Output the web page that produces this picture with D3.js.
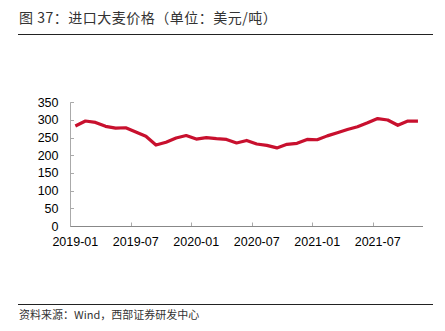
<!DOCTYPE html>
<html><head><meta charset="utf-8">
<script src="https://cdn.jsdelivr.net/npm/d3@7"></script>
<style>body{margin:0;background:#fff}svg{display:block}</style>
</head><body><svg id="c" width="445" height="331"></svg>
<script>
const months = ["2019-01","2019-02","2019-03","2019-04","2019-05","2019-06","2019-07","2019-08","2019-09","2019-10","2019-11","2019-12",
"2020-01","2020-02","2020-03","2020-04","2020-05","2020-06","2020-07","2020-08","2020-09","2020-10","2020-11","2020-12",
"2021-01","2021-02","2021-03","2021-04","2021-05","2021-06","2021-07","2021-08","2021-09","2021-10","2021-11"];
const prices = [283,297,293,282,277,278,266,254,229,237,249,256,246,250,247,245,235,242,232,228,221,231,234,245,
244,255,264,273,281,292,304,300,285,297,297];
const yTicks = [0,50,100,150,200,250,300,350];
const xTickLabels = ["2019-01","2019-07","2020-01","2020-07","2021-01","2021-07"];

const svg = d3.select("#c");
const font = "'Liberation Sans', Arial, sans-serif";
const cjk = "'Noto Sans CJK SC', sans-serif";

svg.append("text").attr("x",19).attr("y",23).attr("font-family",cjk).attr("font-size",14)
  .attr("letter-spacing",0.5).attr("fill","#333")
  .text("图 37：进口大麦价格（单位：美元/吨）");
svg.append("line").attr("x1",18).attr("x2",433).attr("y1",34.5).attr("y2",34.5).attr("stroke","#222").attr("stroke-width",1);
svg.append("line").attr("x1",18).attr("x2",433).attr("y1",304.5).attr("y2",304.5).attr("stroke","#222").attr("stroke-width",1);
svg.append("text").attr("x",19).attr("y",319).attr("font-family",cjk).attr("font-size",11).attr("fill","#333")
  .text("资料来源：Wind，西部证券研发中心");

const x = d3.scaleBand().domain(months).range([70.3,423]).padding(0);
const y = d3.scaleLinear().domain([0,350]).range([226,102.3]);
const cx = m => x(m) + x.bandwidth()/2;

// y axis
const ya = svg.append("g");
ya.append("line").attr("x1",70.5).attr("x2",70.5).attr("y1",y(350)).attr("y2",y(0)).attr("stroke","#aaa");
ya.selectAll("line.t").data(yTicks).join("line").attr("class","t")
  .attr("x1",70.5).attr("x2",74).attr("y1",d=>Math.round(y(d))+0.5).attr("y2",d=>Math.round(y(d))+0.5).attr("stroke","#aaa");
ya.selectAll("text").data(yTicks).join("text")
  .attr("x",58.5).attr("y",d=>y(d)).attr("dy","0.36em").attr("text-anchor","end")
  .attr("font-family",font).attr("font-size",12.5).attr("fill","#000").text(d=>d);

// x axis
const xa = svg.append("g");
xa.append("line").attr("x1",70.3).attr("x2",423).attr("y1",226.5).attr("y2",226.5).attr("stroke","#888");
xa.selectAll("line.t").data(xTickLabels).join("line").attr("class","t")
  .attr("x1",d=>Math.round(x(d))+0.5).attr("x2",d=>Math.round(x(d))+0.5).attr("y1",226).attr("y2",222.5).attr("stroke","#aaa");
xa.selectAll("text").data(xTickLabels).join("text")
  .attr("x",d=>cx(d)).attr("y",246).attr("text-anchor","middle")
  .attr("font-family",font).attr("font-size",12.5).attr("fill","#000").text(d=>d);

// line
const line = d3.line().x((d,i)=>cx(months[i])).y(d=>y(d));
svg.append("path").datum(prices).attr("d",line).attr("fill","none")
  .attr("stroke","#c8102e").attr("stroke-width",3.2).attr("stroke-linejoin","round");
</script></body></html>
